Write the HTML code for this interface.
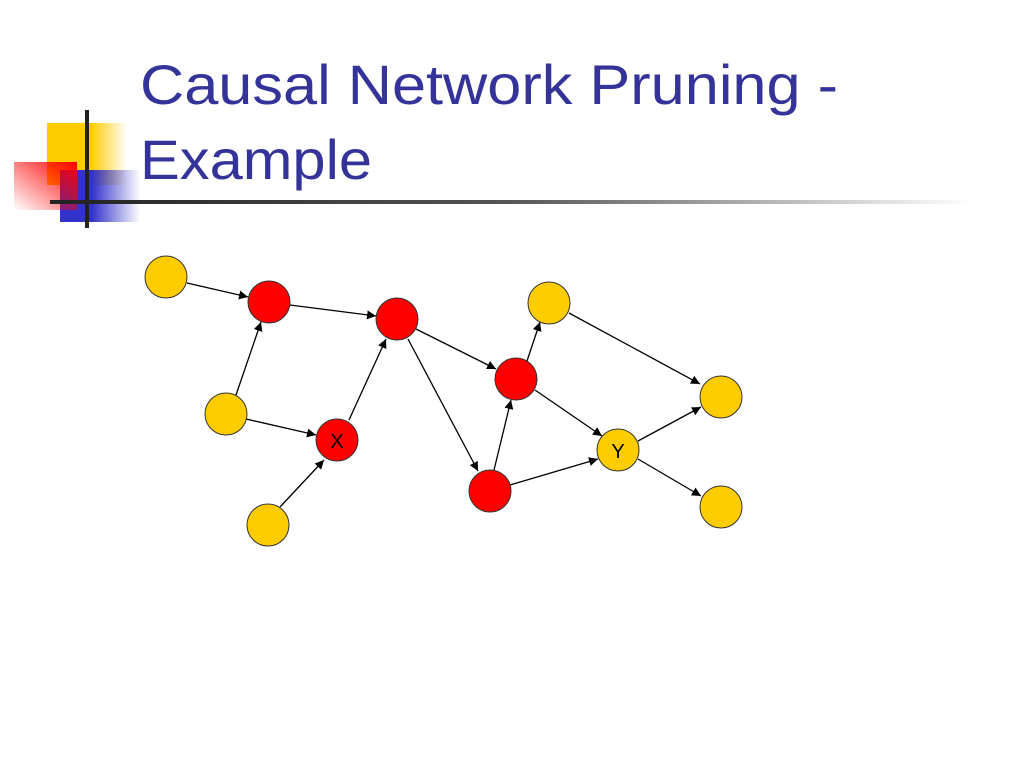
<!DOCTYPE html>
<html><head><meta charset="utf-8"><style>
html,body{margin:0;padding:0;background:#fff;}
svg{display:block}
</style></head><body>
<svg width="1024" height="768" viewBox="0 0 1024 768" xmlns="http://www.w3.org/2000/svg">
<defs>
<linearGradient id="yg" x1="0" x2="1"><stop offset="0.55" stop-color="#ffcc00"/><stop offset="1" stop-color="#ffcc00" stop-opacity="0"/></linearGradient>
<linearGradient id="rg" x1="1" y1="0" x2="0" y2="1"><stop offset="0" stop-color="#ff0000"/><stop offset="1" stop-color="#ff0000" stop-opacity="0"/></linearGradient>
<linearGradient id="bg" x1="0" x2="1"><stop offset="0.4" stop-color="#3333cc"/><stop offset="1" stop-color="#3333cc" stop-opacity="0"/></linearGradient>
<linearGradient id="lg" x1="0" x2="1"><stop offset="0" stop-color="#222"/><stop offset="0.5" stop-color="#555"/><stop offset="1" stop-color="#fff"/></linearGradient>
<marker id="ah" viewBox="0 0 10 10" refX="10" refY="5" markerWidth="9" markerHeight="9" markerUnits="userSpaceOnUse" orient="auto"><path d="M0,0 L10,5 L0,10 z" fill="#000"/></marker>
</defs>
<rect x="47" y="123" width="80" height="62" fill="url(#yg)"/>
<rect x="60" y="170" width="80" height="52" fill="url(#bg)"/>
<rect x="14" y="162" width="63" height="48" fill="url(#rg)"/>
<rect x="85" y="110" width="4" height="118" fill="#222"/>
<rect x="50" y="200" width="920" height="4" fill="url(#lg)"/>
<g font-family="Liberation Sans, sans-serif" font-size="56" fill="#333399">
<text x="140" y="104" textLength="698" lengthAdjust="spacingAndGlyphs">Causal Network Pruning -</text>
<text x="140" y="179" textLength="232" lengthAdjust="spacingAndGlyphs">Example</text>
</g>
<g stroke="#000" stroke-width="1.3" marker-end="url(#ah)" id="edges"></g>
<g stroke="#000" stroke-width="1.3" marker-end="url(#ah)">
<line x1="187" y1="283" x2="248" y2="297"/>
<line x1="290" y1="305" x2="376" y2="316"/>
<line x1="236" y1="395" x2="261" y2="322"/>
<line x1="246" y1="419" x2="316" y2="435"/>
<line x1="280" y1="507" x2="324" y2="460"/>
<line x1="349" y1="420" x2="386" y2="339"/>
<line x1="416" y1="329" x2="496" y2="369"/>
<line x1="408" y1="339" x2="478" y2="471"/>
<line x1="527" y1="361" x2="540" y2="322"/>
<line x1="569" y1="313" x2="700" y2="384"/>
<line x1="535" y1="390" x2="602" y2="436"/>
<line x1="494" y1="470" x2="511" y2="400"/>
<line x1="510" y1="485" x2="598" y2="459"/>
<line x1="638" y1="441" x2="701" y2="407"/>
<line x1="638" y1="459" x2="701" y2="496"/>
</g>
<g stroke="#333" stroke-width="1">
<circle cx="166" cy="277" r="21" fill="#ffcc00"/>
<circle cx="269" cy="302" r="21" fill="#ff0000"/>
<circle cx="397" cy="319" r="21" fill="#ff0000"/>
<circle cx="226" cy="414" r="21" fill="#ffcc00"/>
<circle cx="337" cy="440" r="21" fill="#ff0000"/>
<circle cx="268" cy="525" r="21" fill="#ffcc00"/>
<circle cx="549" cy="303" r="21" fill="#ffcc00"/>
<circle cx="516" cy="379" r="21" fill="#ff0000"/>
<circle cx="490" cy="491" r="21" fill="#ff0000"/>
<circle cx="618" cy="450" r="21" fill="#ffcc00"/>
<circle cx="721" cy="397" r="21" fill="#ffcc00"/>
<circle cx="721" cy="507" r="21" fill="#ffcc00"/>
</g>
<g font-family="Liberation Sans, sans-serif" font-size="20" fill="#000" text-anchor="middle">
<text x="337" y="448">X</text>
<text x="618" y="458">Y</text>
</g>
</svg>
</body></html>
